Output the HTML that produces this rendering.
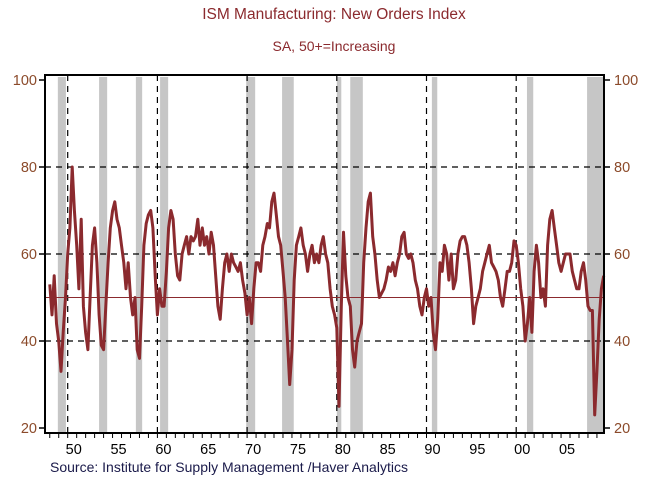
<!DOCTYPE html>
<html><head><meta charset="utf-8"><style>
body{margin:0;background:#fff;}
svg text{font-family:"Liberation Sans",Arial,sans-serif;}
</style></head><body>
<svg width="668" height="482" viewBox="0 0 668 482" xmlns="http://www.w3.org/2000/svg">
<text x="334" y="19" text-anchor="middle" font-size="15.5" fill="#8B2A2E">ISM Manufacturing: New Orders Index</text>
<text x="334" y="51" text-anchor="middle" font-size="14" fill="#8B2A2E">SA, 50+=Increasing</text>
<g id="rec"></g>
<g id="grid"></g>
<g id="series"></g>
<g id="axes"></g>
<text x="50" y="472" font-size="14" fill="#1a1a4a">Source:  Institute for Supply Management /Haver Analytics</text>
</svg>
<script>
const startYear = 1948;
const perYear = 4;
const values = [
53,46,55,44, 40,33,42,50, 60,66,80,70, 62,52,68,48, 42,38,50,62, 66,58,46,39,
38,48,58,66, 70,72,68,66, 62,58,52,58, 50,46,50,38, 36,48,62,67, 69,70,66,55,
46,52,48,48, 56,66,70,68, 60,55,54,60, 62,64,60,64, 63,64,68,62, 66,62,64,60,
65,62,55,48, 45,52,58,60, 56,60,58,57, 56,58,54,51, 46,50,44,52, 58,58,56,62,
64,67,66,72, 74,69,64,62, 56,50,40,30, 38,54,62,64, 66,62,60,56, 60,62,58,60,
58,62,64,60, 58,52,48,46, 43,25,48,65, 55,50,48,38, 34,40,42,44, 58,66,72,74,
64,60,54,50, 51,52,54,57, 56,58,55,58, 60,64,65,60, 59,60,58,54, 52,48,46,50,
52,48,50,42, 38,45,58,56, 62,60,54,60, 52,54,60,63, 64,64,62,58, 52,44,48,50,
52,56,58,60, 62,58,57,56, 54,50,48,52, 56,56,58,63, 62,58,52,48, 40,44,50,42,
56,62,58,50, 52,48,62,68, 70,66,62,58, 56,58,60,60, 60,56,54,52, 52,56,58,54,
48,47,47,23, 33,45,52,55
];
const recStarts = [1948.9,1953.5,1957.6,1960.3,1969.9,1973.9,1980.0,1981.5,1990.6,2001.2,2007.9];
const recEnds   = [1949.8,1954.4,1958.3,1961.2,1970.9,1975.2,1980.5,1982.9,1991.2,2001.9,2009.75];
const yTicks = [20,40,60,80,100];
const xLabelYears = [1950,1955,1960,1965,1970,1975,1980,1985,1990,1995,2000,2005];
const xLabels = ["50","55","60","65","70","75","80","85","90","95","00","05"];
const decades = [1950,1960,1970,1980,1990,2000];
const refLevel = 50;

const L=45,R=604,T=75,B=433;
const xS = y => 67.7 + (y-1950)*8.97;
const yS = v => 80 + (100-v)*4.35;
const NS="http://www.w3.org/2000/svg";
function mk(tag, parent, attrs){const e=document.createElementNS(NS,tag);for(const k in attrs)e.setAttribute(k,attrs[k]);parent.appendChild(e);return e;}
const rec=document.getElementById('rec'), grid=document.getElementById('grid'), ser=document.getElementById('series'), ax=document.getElementById('axes');

recStarts.forEach((s,i)=>{
  const r=mk('rect',rec,{x:xS(s),y:T+2,width:xS(recEnds[i])-xS(s),height:B-T-3,fill:'#c6c6c6'});
  
  
});
[40,60,80].forEach(v=>{
  const l=mk('line',grid,{x1:L,x2:R,y1:yS(v),y2:yS(v),stroke:'#000','stroke-width':1.2,'stroke-dasharray':'6,5'});
  
  
});
decades.forEach(d=>{
  const l=mk('line',grid,{x1:xS(d),x2:xS(d),y1:T,y2:B,stroke:'#000','stroke-width':1.2,'stroke-dasharray':'6,5'});
  
  
});
const ref=mk('line',grid,{x1:L,x2:R,y1:yS(refLevel),y2:yS(refLevel),stroke:'#8B2A2E','stroke-width':1});



const pts=values.map((v,i)=>xS(startYear+i/perYear).toFixed(1)+','+yS(v).toFixed(1)).join(' ');
const pl=mk('polyline',ser,{points:pts,fill:'none',stroke:'#8B2A2E','stroke-width':3,'stroke-linejoin':'round'});



const fr=mk('rect',ax,{x:L,y:T,width:R-L,height:B-T,fill:'none',stroke:'#000','stroke-width':2});


yTicks.forEach(v=>{
  mk('line',ax,{x1:L-6,x2:L,y1:yS(v),y2:yS(v),stroke:'#000','stroke-width':1.5});
  mk('line',ax,{x1:R,x2:R+6,y1:yS(v),y2:yS(v),stroke:'#000','stroke-width':1.5});
  const t1=mk('text',ax,{x:L-8,y:yS(v)+5,'text-anchor':'end','font-size':14.5,fill:'#8B4A2A'});
  t1.textContent=v;
  
  
  const t2=mk('text',ax,{x:R+10,y:yS(v)+5,'text-anchor':'start','font-size':14.5,fill:'#8B4A2A'});
  t2.textContent=v;
  
  
});
for(let y=1948;y<=2009;y++){
  mk('line',ax,{x1:xS(y),x2:xS(y),y1:B,y2:B+5,stroke:'#000','stroke-width':1});
}
xLabelYears.forEach((y,i)=>{
  const t=mk('text',ax,{x:xS(y)+6,y:454,'text-anchor':'middle','font-size':14.5,fill:'#000'});
  t.textContent=xLabels[i];
  
  
});
</script>
</body></html>
